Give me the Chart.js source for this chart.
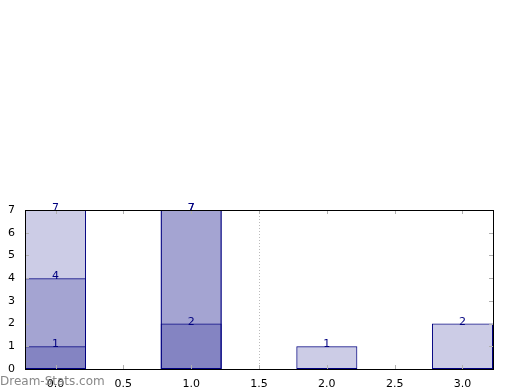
<!DOCTYPE html>
<html>
<head>
<meta charset="utf-8">
<script src="https://cdn.jsdelivr.net/npm/chart.js@4"></script>
<style>
  html, body { margin: 0; padding: 0; background: #fff; }
  #wrap { width: 520px; height: 390px; }
</style>
</head>
<body>
<div id="wrap"><canvas id="chart" width="520" height="390"></canvas></div>
<script>
const positions = [0, 1, 2, 3];
const layerA = [7, 7, 1, 2];
const layerB = [4, 7, null, null];
const layerC = [1, 2, null, null];
const xTicks = [0, 0.5, 1, 1.5, 2, 2.5, 3];
const yTicks = [0, 1, 2, 3, 4, 5, 6, 7];
const refLine = 1.5;

const fill = 'rgba(0, 0, 128, 0.2)';
const edge = '#000080';
const font = '"DejaVu Sans", sans-serif';

const toPoints = vals => positions
    .map((x, i) => ({ x: x, y: vals[i] }))
    .filter(p => p.y != null);

const frame = {
    id: 'frame',
    beforeDatasetsDraw(chart) {
        const { ctx, chartArea: a, scales: { x } } = chart;
        const px = x.getPixelForValue(refLine);
        ctx.save();
        ctx.strokeStyle = '#bbbbbb';
        ctx.lineWidth = 1;
        ctx.setLineDash([1, 2]);
        ctx.beginPath();
        ctx.moveTo(Math.round(px) + 0.5, a.top);
        ctx.lineTo(Math.round(px) + 0.5, a.bottom);
        ctx.stroke();
        ctx.restore();
    },
    afterDatasetsDraw(chart) {
        const { ctx, chartArea: a, scales: { x, y } } = chart;
        ctx.save();
        // value labels
        ctx.fillStyle = edge;
        ctx.font = '11px ' + font;
        ctx.textAlign = 'center';
        ctx.textBaseline = 'alphabetic';
        chart.data.datasets.forEach((ds, di) => {
            chart.getDatasetMeta(di).data.forEach((bar, i) => {
                ctx.fillText(String(ds.data[i].y), bar.x, bar.y + 1);
            });
        });
        // inner tick marks
        ctx.strokeStyle = '#b0b0b0';
        ctx.lineWidth = 1;
        xTicks.forEach(t => {
            const p = Math.round(x.getPixelForValue(t)) + 0.5;
            ctx.beginPath();
            ctx.moveTo(p, a.bottom); ctx.lineTo(p, a.bottom - 4);
            ctx.moveTo(p, a.top); ctx.lineTo(p, a.top + 4);
            ctx.stroke();
        });
        yTicks.forEach(t => {
            const p = Math.round(y.getPixelForValue(t)) + 0.5;
            ctx.beginPath();
            ctx.moveTo(a.left, p); ctx.lineTo(a.left + 4, p);
            ctx.moveTo(a.right, p); ctx.lineTo(a.right - 4, p);
            ctx.stroke();
        });
        // frame
        ctx.strokeStyle = '#000';
        ctx.strokeRect(Math.round(a.left) + 0.5, Math.round(a.top) + 0.5,
            Math.round(a.right - a.left), Math.round(a.bottom - a.top));
        ctx.restore();
    },
    afterDraw(chart) {
        const ctx = chart.ctx;
        ctx.save();
        ctx.fillStyle = '#888888';
        ctx.font = '12px ' + font;
        ctx.textAlign = 'left';
        ctx.textBaseline = 'alphabetic';
        ctx.fillText('Dream-Stats.com', 0, 385);
        ctx.restore();
    }
};

// bar width: ruler uses the 0.5 tick spacing, so 0.9 of it = 0.45 units
const layer = vals => ({
    data: toPoints(vals),
    backgroundColor: fill,
    borderColor: edge,
    borderWidth: 1,
    borderSkipped: false,
    grouped: false,
    barPercentage: 0.9,
    categoryPercentage: 1.0
});

new Chart(document.getElementById('chart'), {
    type: 'bar',
    data: { datasets: [layer(layerA), layer(layerB), layer(layerC)] },
    options: {
        responsive: false,
        animation: false,
        layout: { padding: { top: 210, right: 27, left: 0, bottom: 0 } },
        plugins: { legend: { display: false }, tooltip: { enabled: false } },
        scales: {
            x: {
                type: 'linear',
                offset: false,
                min: -0.225,
                max: 3.225,
                grid: { display: false },
                border: { display: false },
                afterFit: s => { s.height = 21; },
                afterBuildTicks: s => { s.ticks = xTicks.map(v => ({ value: v })); },
                ticks: {
                    padding: 1,
                    color: '#000',
                    font: { family: font, size: 11 },
                    maxRotation: 0,
                    callback: v => Number(v).toFixed(1)
                }
            },
            y: {
                min: 0,
                max: 7,
                grid: { display: false },
                border: { display: false },
                afterFit: s => { s.width = 25; },
                afterBuildTicks: s => { s.ticks = yTicks.map(v => ({ value: v })); },
                ticks: {
                    padding: 2,
                    color: '#000',
                    font: { family: font, size: 11 }
                }
            }
        }
    },
    plugins: [frame]
});
</script>
</body>
</html>
